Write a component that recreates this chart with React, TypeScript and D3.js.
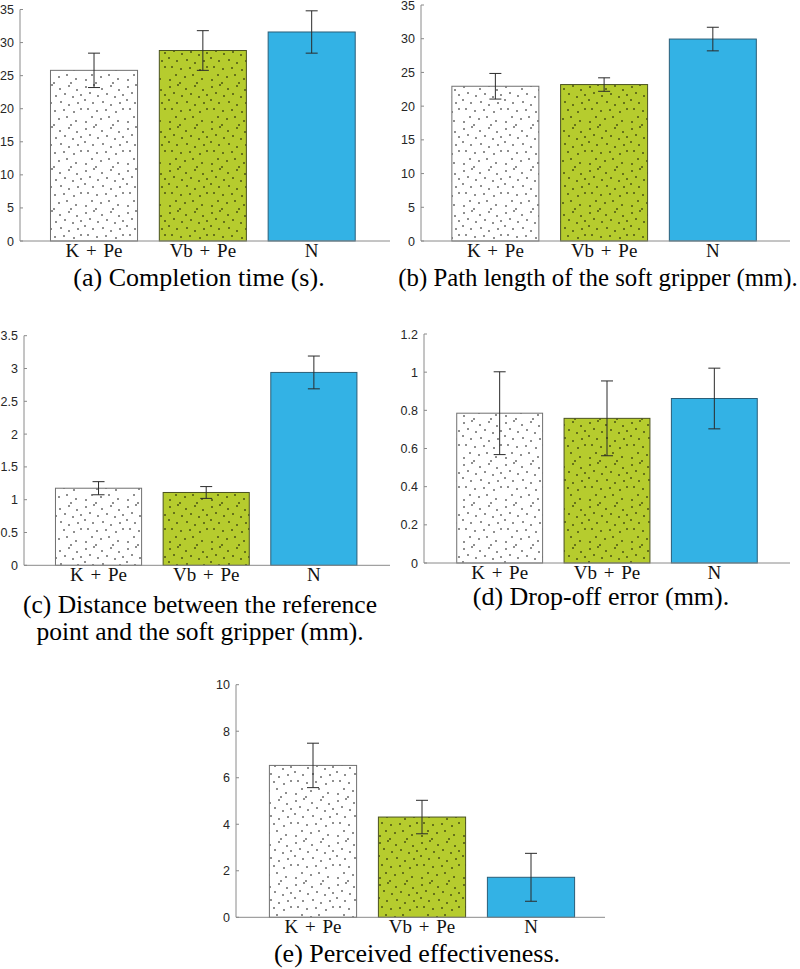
import React from "react";
import * as d3 from "d3";

const categories = ["K + Pe", "Vb + Pe", "N"];

const completionTime = [25.8, 28.8, 31.6];
const completionTimeSd = [2.6, 3.0, 3.2];

const pathLength = [22.95, 23.2, 29.95];
const pathLengthSd = [1.9, 1.0, 1.75];

const distance = [1.175, 1.11, 2.94];
const distanceSd = [0.1, 0.09, 0.25];

const dropOff = [0.785, 0.758, 0.862];
const dropOffSd = [0.217, 0.196, 0.159];

const effectiveness = [6.53, 4.31, 1.72];
const effectivenessSd = [0.955, 0.72, 1.03];

const ticksA = [0, 5, 10, 15, 20, 25, 30, 35];
const ticksB = [0, 5, 10, 15, 20, 25, 30, 35];
const ticksC = [0, 0.5, 1, 1.5, 2, 2.5, 3, 3.5];
const ticksD = [0, 0.2, 0.4, 0.6, 0.8, 1, 1.2];
const ticksE = [0, 2, 4, 6, 8, 10];

const captionA = ["(a) Completion time (s)."];
const captionB = ["(b) Path length of the soft gripper (mm)."];
const captionC = ["(c) Distance between the reference", "point and the soft gripper (mm)."];
const captionD = ["(d) Drop-off error (mm)."];
const captionE = ["(e) Perceived effectiveness."];

const fills = ["#ffffff", "#b6cc2e", "#33b2e5"];
const strokes = ["#707070", "#4a5220", "#2a5e78"];
const dotted = [true, true, false];

// decorative stipple tile (irregular)
const dotTile = [
  [2, 3], [10, 1], [18, 5], [27, 2], [35, 6], [6, 9], [14, 12], [23, 10], [31, 13], [39, 11],
  [1, 16], [9, 19], [19, 18], [27, 21], [36, 19], [4, 25], [13, 27], [22, 26], [32, 28], [39, 25],
  [8, 33], [17, 35], [25, 33], [34, 37], [2, 38], [12, 41], [29, 41],
];

type Panel = {
  values: number[];
  sd: number[];
  ticks: number[];
  max: number;
  axisX: number;
  axisRight: number;
  y0: number;
  yTop: number;
  band: [number, number];
  caption: string[];
  capX: number;
  capY: number;
  capSize: number;
};

const panels: Panel[] = [
  { values: completionTime, sd: completionTimeSd, ticks: ticksA, max: 35,
    axisX: 20, axisRight: 390, y0: 241, yTop: 9.5, band: [39.6, 366.1],
    caption: captionA, capX: 199, capY: 286, capSize: 26 },
  { values: pathLength, sd: pathLengthSd, ticks: ticksB, max: 35,
    axisX: 421, axisRight: 790, y0: 241, yTop: 5, band: [441, 767.2],
    caption: captionB, capX: 598, capY: 286, capSize: 24.8 },
  { values: distance, sd: distanceSd, ticks: ticksC, max: 3.5,
    axisX: 24, axisRight: 390, y0: 565.3, yTop: 335.7, band: [44.7, 367.7],
    caption: captionC, capX: 200, capY: 613, capSize: 25.5 },
  { values: dropOff, sd: dropOffSd, ticks: ticksD, max: 1.2,
    axisX: 424, axisRight: 790, y0: 563, yTop: 334, band: [446, 768],
    caption: captionD, capX: 601, capY: 605, capSize: 26 },
  { values: effectiveness, sd: effectivenessSd, ticks: ticksE, max: 10,
    axisX: 236, axisRight: 605, y0: 917.3, yTop: 684.7, band: [258.5, 585.5],
    caption: captionE, capX: 417, capY: 962, capSize: 26 },
];

function BarPanel({ p }: { p: Panel }) {
  const y = d3.scaleLinear().domain([0, p.max]).range([p.y0, p.yTop]);
  const x = d3.scaleBand<string>().domain(categories).range(p.band).paddingInner(0.2).paddingOuter(0.1);
  const axisColor = "#8a8a8a";
  return (
    <g>
      {categories.map((c, i) => {
        const bx = x(c)!;
        const bw = x.bandwidth();
        const top = y(p.values[i]);
        const h = y(0) - top;
        return (
          <g key={c}>
            <rect x={bx} y={top} width={bw} height={h} fill={fills[i]} />
            {dotted[i] && <rect x={bx} y={top} width={bw} height={h} fill="url(#stipple)" />}
            <rect x={bx} y={top} width={bw} height={h} fill="none" stroke={strokes[i]} strokeWidth={1} />
          </g>
        );
      })}
      <line x1={p.axisX} x2={p.axisX} y1={p.y0} y2={p.yTop} stroke={axisColor} strokeWidth={1} />
      <line x1={p.axisX} x2={p.axisRight} y1={p.y0} y2={p.y0} stroke={axisColor} strokeWidth={1} />
      {p.ticks.map((t) => (
        <g key={t}>
          <line x1={p.axisX} x2={p.axisX + 3} y1={y(t)} y2={y(t)} stroke={axisColor} strokeWidth={1} />
          <text x={p.axisX - 6} y={y(t)} dy="0.36em" textAnchor="end" fontFamily="'Liberation Sans', Arial, sans-serif" fontSize={12.5} fill="#262626">
            {String(t)}
          </text>
        </g>
      ))}
      {categories.map((c) => (
        <text key={c} x={x(c)! + x.bandwidth() / 2} y={p.y0 + 15.5} textAnchor="middle" fontFamily="'Liberation Serif', 'Times New Roman', serif" fontSize={19} wordSpacing={2} fill="#111">
          {c}
        </text>
      ))}
      {categories.map((c, i) => {
        const cx = x(c)! + x.bandwidth() / 2;
        const hi = y(p.values[i] + p.sd[i]);
        const lo = y(p.values[i] - p.sd[i]);
        return (
          <g key={c} stroke="#2b2b2b" strokeWidth={1}>
            <line x1={cx} x2={cx} y1={hi} y2={lo} />
            <line x1={cx - 6} x2={cx + 6} y1={hi} y2={hi} />
            <line x1={cx - 6} x2={cx + 6} y1={lo} y2={lo} />
          </g>
        );
      })}
      {p.caption.map((line, k) => (
        <text key={k} x={p.capX} y={p.capY + k * 27} textAnchor="middle" fontFamily="'Liberation Serif', 'Times New Roman', serif" fontSize={p.capSize} fill="#000">
          {line}
        </text>
      ))}
    </g>
  );
}

export default function App() {
  return (
    <svg width={800} height={969} viewBox="0 0 800 969" style={{ position: "absolute", left: 0, top: 0, background: "#fff" }}>
      <defs>
        <pattern id="stipple" patternUnits="userSpaceOnUse" width={42} height={42}>
          {dotTile.map(([dx, dy], i) => (
            <circle key={i} cx={dx} cy={dy} r={0.8} fill="#000" />
          ))}
        </pattern>
      </defs>
      {panels.map((p, i) => (
        <BarPanel key={i} p={p} />
      ))}
    </svg>
  );
}
